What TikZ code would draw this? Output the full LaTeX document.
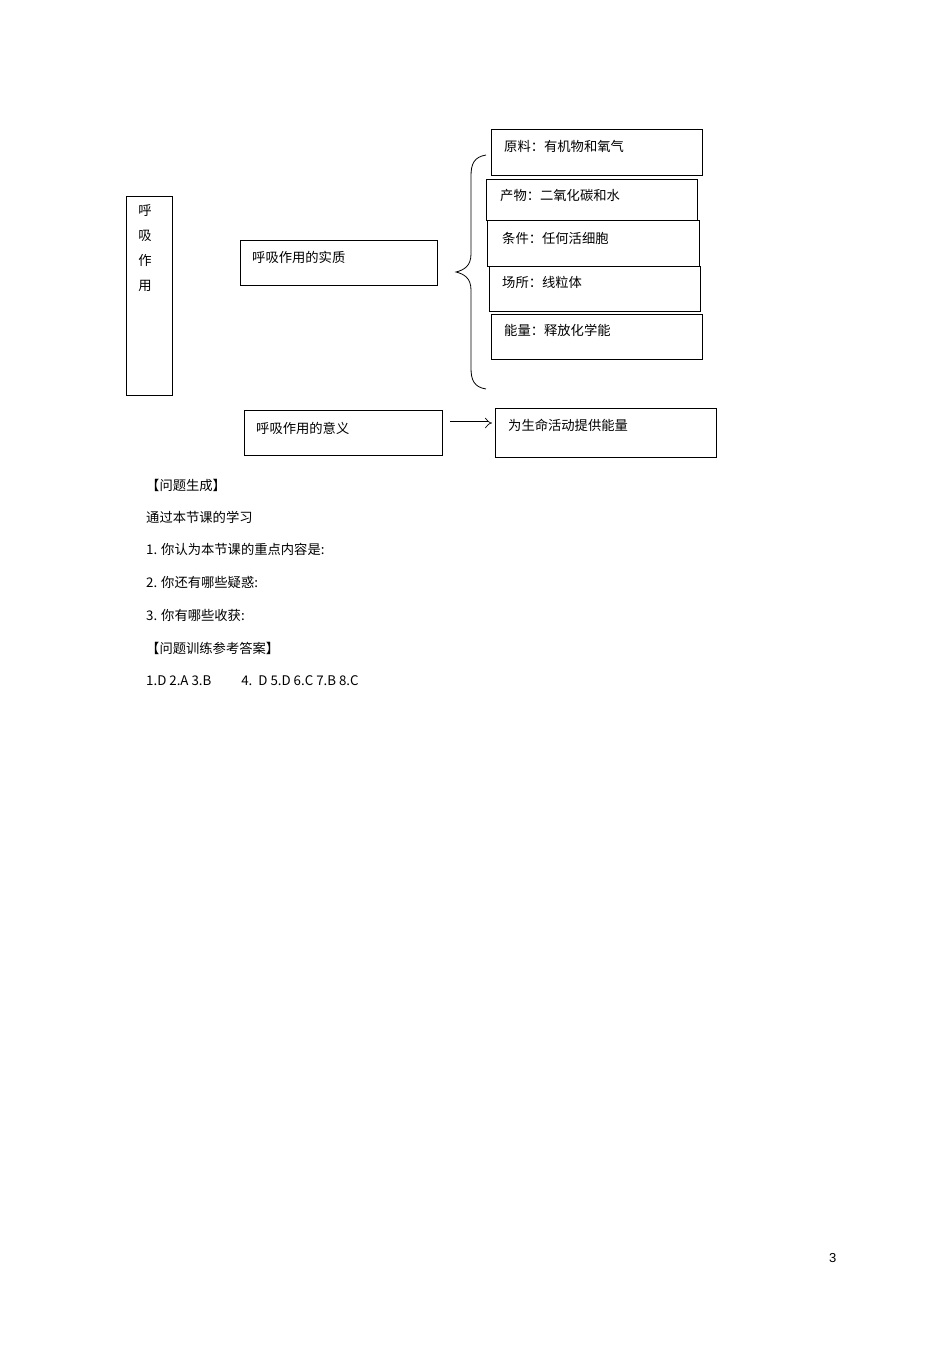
\documentclass[tikz,border=0pt]{standalone}
\usepackage{fontspec}
\setmainfont{Liberation Sans}
\newfontfamily\cjk{Noto Sans CJK SC}[Scale=0.95]
\usetikzlibrary{arrows.meta}
\begin{document}
\begin{tikzpicture}[x=1pt,y=-1pt,
  bx/.style={draw,line width=0.9pt,inner sep=0pt,anchor=north west},
  tx/.style={anchor=west,inner sep=0pt,font=\fontsize{14}{16}\selectfont\cjk},
  ln/.style={anchor=west,inner sep=0pt,font=\fontsize{14}{16}\selectfont\cjk}]
\useasboundingbox[fill=white] (0,0) rectangle (950,1345);
\node[bx,minimum width=46pt,minimum height=199pt] (main) at (126,196) {};
\node[anchor=north,inner sep=0pt,align=center,font=\fontsize{14}{25}\selectfont\cjk] (maint) at (145,204) {呼\\吸\\作\\用};
\node[bx,minimum width=197pt,minimum height=45pt] (sz) at (240,240) {};
\node[tx] (szt) at (252,257) {呼吸作用的实质};
\node[bx,minimum width=211pt,minimum height=46pt] (b1) at (491,129) {};
\node[tx] (b1t) at (504,146) {原料：有机物和氧气};
\node[bx,minimum width=211pt,minimum height=41pt] (b2) at (486,179) {};
\node[tx] (b2t) at (500,195) {产物：二氧化碳和水};
\node[bx,minimum width=212pt,minimum height=46pt] (b3) at (487,220) {};
\node[tx] (b3t) at (502,238) {条件：任何活细胞};
\node[bx,minimum width=211pt,minimum height=45pt] (b4) at (489,266) {};
\node[tx] (b4t) at (502,282) {场所：线粒体};
\node[bx,minimum width=211pt,minimum height=45pt] (b5) at (491,314) {};
\node[tx] (b5t) at (504,330) {能量：释放化学能};
\node[bx,minimum width=198pt,minimum height=45pt] (yy) at (244,410) {};
\node[tx] (yyt) at (256,428) {呼吸作用的意义};
\node[bx,minimum width=221pt,minimum height=49pt] (gn) at (495,408) {};
\node[tx] (gnt) at (508,425) {为生命活动提供能量};
\coordinate (as) at (450,423);
\coordinate (ae) at (492,423);
\draw[double,double distance=3pt,line width=0.7pt,-{Implies}] (as) -- (ae);
\coordinate (bt) at (486,155);
\coordinate (bb) at (486,389);
\draw[line width=0.8pt] (bt) .. controls (474,157) and (471,164) .. (471,176) -- (471,254)
  .. controls (471,266) and (464,270) .. (456,272)
  .. controls (464,274) and (471,278) .. (471,290) -- (471,368)
  .. controls (471,380) and (474,387) .. (bb);
\node[ln] (l1) at (146,485) {【问题生成】};
\node[ln] (l2) at (146,517) {通过本节课的学习};
\node[ln] (l3) at (146,549) {1. 你认为本节课的重点内容是:};
\node[ln] (l4) at (146,582) {2. 你还有哪些疑惑:};
\node[ln] (l5) at (146,615) {3. 你有哪些收获:};
\node[ln] (l6) at (146,648) {【问题训练参考答案】};
\node[ln] (l7) at (146,681) {1.D 2.A 3.B\hspace{30pt}4.\ \ D 5.D 6.C 7.B 8.C};
\node[anchor=west,inner sep=0pt,font=\fontsize{13}{15}\selectfont] (pg) at (829,1258) {3};
\end{tikzpicture}
\end{document}
